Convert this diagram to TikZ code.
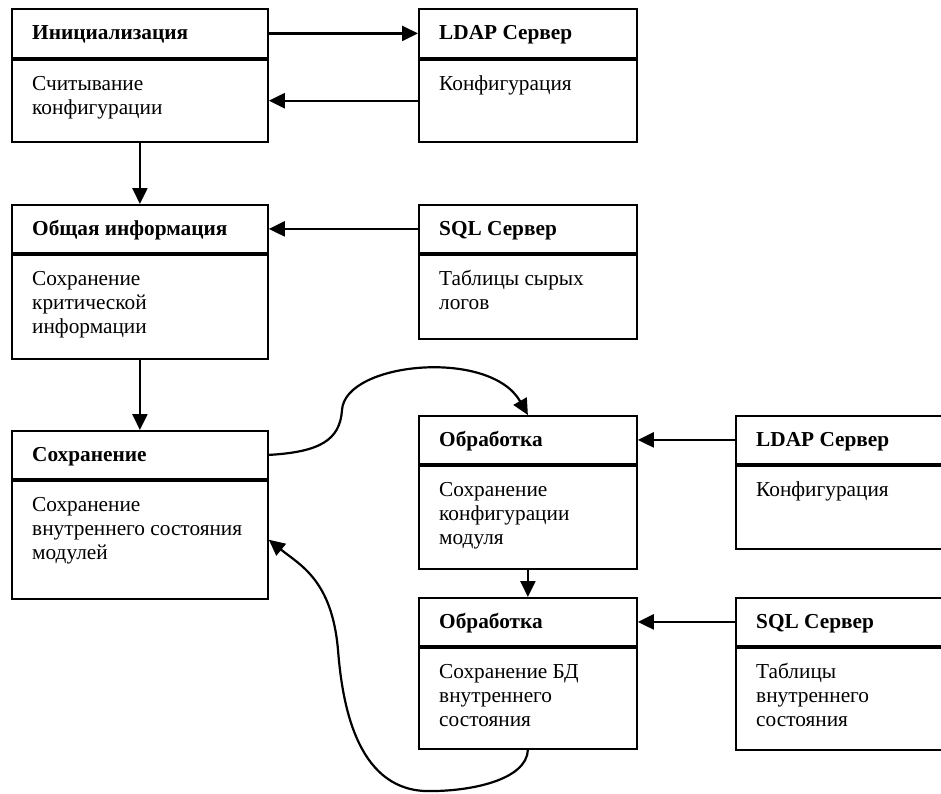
\documentclass[tikz,border=0pt]{standalone}
\usepackage{fontspec}
\setmainfont{Liberation Serif}
\usetikzlibrary{arrows.meta}

% One block: a title compartment over a body compartment.
% #1 name, #2 x, #3 y (top left), #4 width, #5 title height, #6 body height,
% #7 title, #8 body text
\newcommand\blockbox[8]{%
  \node[part, minimum width=#4, minimum height=#5] (#1h) at (#2,#3) {};
  \node[part, minimum width=#4, minimum height=#6] (#1b) at (#1h.south west) {};
  \node[titletext] (#1t) at ([xshift=21pt, yshift=-14.2pt]#1h.north west) {\strut #7};
  \node[bodytext] (#1x) at ([xshift=21pt, yshift=-14.2pt]#1b.north west) {\strut #8};
}

\begin{document}
\begin{tikzpicture}[
  x=1pt, y=-1pt,
  part/.style={draw, line width=1.8pt, anchor=north west, inner sep=0pt},
  titletext/.style={anchor=north west, inner sep=0pt, align=left,
    font=\fontsize{21.3}{24}\selectfont\bfseries},
  bodytext/.style={anchor=north west, inner sep=0pt, align=left,
    font=\fontsize{21.3}{24}\selectfont},
  flow/.style={line width=2.4pt, -{Triangle[length=16pt, width=15pt]}},
  curvy/.style={line width=2.2pt, -{Triangle[length=16pt, width=15pt]}},
]
\useasboundingbox (0,0) rectangle (941,793);
\clip (0,0) rectangle (941,793);

% left column
\blockbox{init}{11}{8}{256pt}{49pt}{82pt}{Инициализация}{Считывание\\конфигурации}
\blockbox{info}{11}{204}{256pt}{48pt}{104pt}{Общая информация}{Сохранение\\критической\\информации}
\blockbox{save}{11}{430}{256pt}{48pt}{118pt}{Сохранение}{Сохранение\\внутреннего состояния\\модулей}

% upper servers
\blockbox{ldapA}{418}{8}{218pt}{49pt}{82pt}{LDAP Сервер}{Конфигурация}
\blockbox{sqlA}{418}{204}{218pt}{48pt}{84pt}{SQL Сервер}{Таблицы сырых\\логов}

% processing column
\blockbox{procA}{418}{415}{218pt}{48pt}{103pt}{Обработка}{Сохранение\\конфигурации\\модуля}
\blockbox{procB}{418}{597}{218pt}{48pt}{101pt}{Обработка}{Сохранение БД\\внутреннего\\состояния}

% lower servers
\blockbox{ldapB}{735}{415}{218pt}{48pt}{83pt}{LDAP Сервер}{Конфигурация}
\blockbox{sqlB}{735}{597}{218pt}{48pt}{102pt}{SQL Сервер}{Таблицы\\внутреннего\\состояния}

% straight connectors
\draw[flow] (inith.east) -- (ldapAh.west);
\draw[flow] (ldapAb.west) -- (initb.east);
\draw[flow] (initb.south) -- (infoh.north);
\draw[flow] (sqlAh.west) -- (infoh.east);
\draw[flow] (infob.south) -- (saveh.north);
\draw[flow] (ldapBh.west) -- (procAh.east);
\draw[flow] (procAb.south) -- (procBh.north);
\draw[flow] (sqlBh.west) -- (procBh.east);

% curved connectors
\coordinate (hump) at (342,410);
\coordinate (dip) at (425,791);
\coordinate (rise) at (338,650);
\draw[curvy] (saveh.east) .. controls (320,452) and (340,440) .. (hump)
  .. controls (345,362) and (490,348) .. (procAh.north);
\draw[curvy] (procBb.south) .. controls (527,780) and (470,792) .. (dip)
  .. controls (355,788) and (342,700) .. (rise)
  .. controls (332,580) and (300,565) .. (saveb.east);
\end{tikzpicture}
\end{document}
